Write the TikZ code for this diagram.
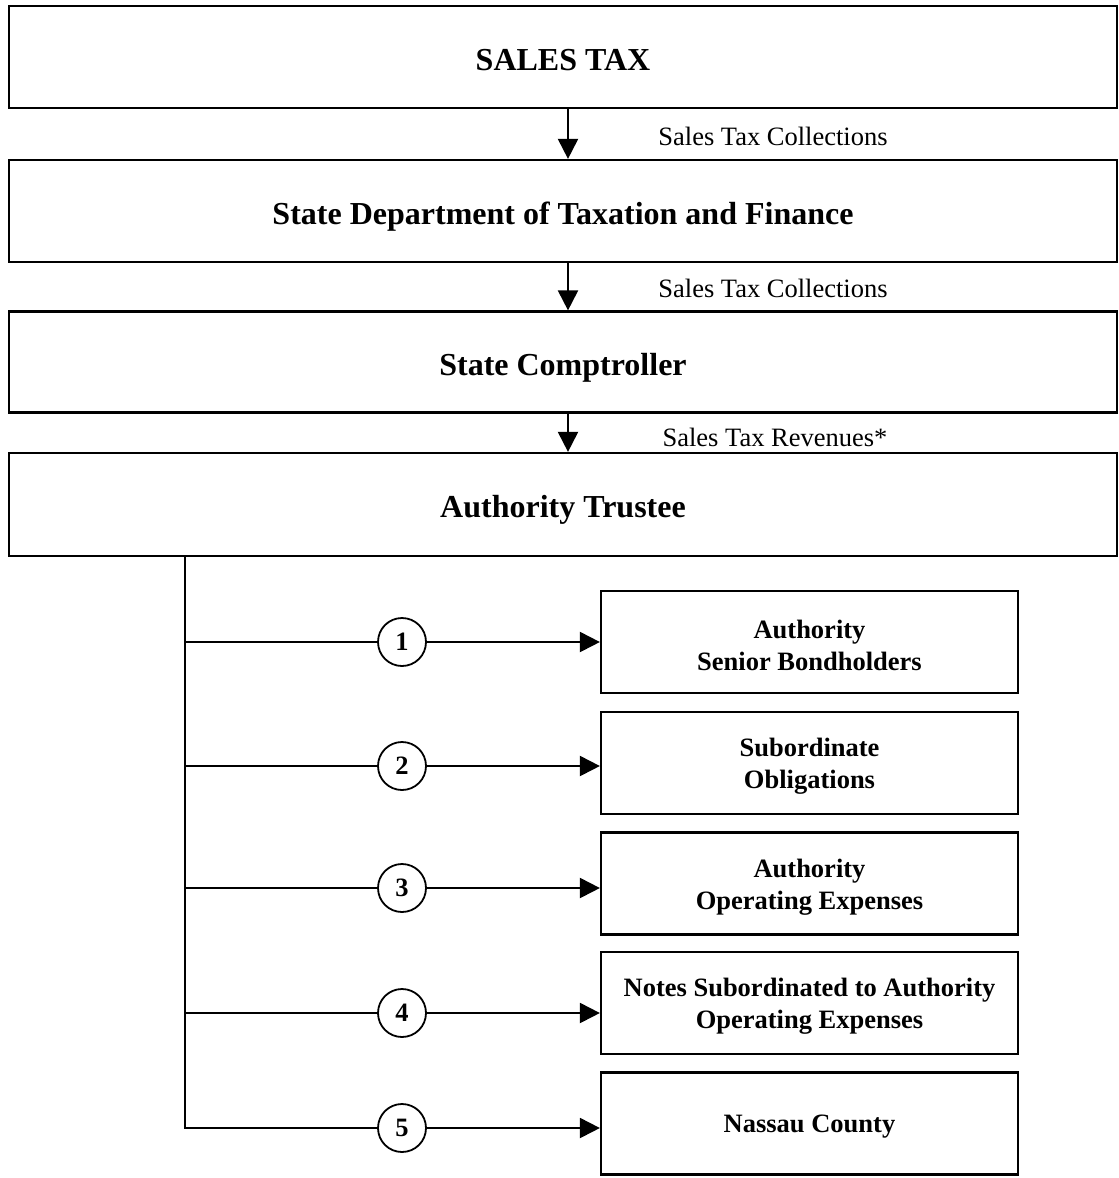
\documentclass[tikz,border=0pt]{standalone}
\usepackage{fontspec}
\setmainfont{Liberation Serif}
\usetikzlibrary{arrows.meta}
\tikzset{
  bigbox/.style={draw, line width=2.2pt, minimum width=1108pt, inner sep=0pt,
    text height=26pt, text depth=0pt,
    font=\fontsize{32}{38}\selectfont\bfseries},
  smallbox/.style={draw, line width=2.2pt, minimum width=417pt, minimum height=102pt, inner sep=0pt},
  boxtext/.style={inner sep=0pt, align=center, yshift=-3.5pt,
    font=\fontsize{26.5}{32}\selectfont\bfseries},
  flowlabel/.style={inner sep=0pt, font=\fontsize{26.5}{32}\selectfont},
  numcircle/.style={draw, circle, fill=white, line width=1.8pt, minimum size=48pt,
    inner sep=0pt, font=\fontsize{26.5}{32}\selectfont\bfseries},
  conn/.style={line width=2pt},
  arr/.style={line width=2pt, -{Triangle[length=20pt,width=20pt]}}
}
\begin{document}
\begin{tikzpicture}[x=1pt,y=-1pt]
\useasboundingbox (0,0) rectangle (1119,1178);
% main boxes
\node[bigbox, minimum height=102pt] (A) at (563,57) {SALES TAX};
\node[bigbox, minimum height=102pt] (B) at (563,211) {State Department of Taxation and Finance};
\node[bigbox, minimum height=101pt] (C) at (563,362) {State Comptroller};
\node[bigbox, minimum height=103pt] (D) at (563,504.5) {Authority Trustee};
% vertical arrows
\draw[arr] ([xshift=5pt]A.south) -- ([xshift=5pt]B.north);
\draw[arr] ([xshift=5pt]B.south) -- ([xshift=5pt]C.north);
\draw[arr] ([xshift=5pt]C.south) -- ([xshift=5pt]D.north);
\node[flowlabel] (l1) at (773,136) {Sales Tax Collections};
\node[flowlabel] (l2) at (773,288) {Sales Tax Collections};
\node[flowlabel] (l3) at (775,437) {Sales Tax Revenues*};
% right boxes
\node[smallbox, label={[boxtext]center:{Authority\\Senior Bondholders}}] (R1) at (809.5,642) {};
\node[smallbox, label={[boxtext]center:{Subordinate\\Obligations}}] (R2) at (809.5,763) {};
\node[smallbox, label={[boxtext]center:{Authority\\Operating Expenses}}] (R3) at (809.5,883.5) {};
\node[smallbox, label={[boxtext]center:{Notes Subordinated to Authority\\Operating Expenses}}] (R4) at (809.5,1003) {};
\node[smallbox, label={[boxtext]center:{Nassau County}}] (R5) at (809.5,1123.5) {};
% trunk
\coordinate (T0) at (185,556);
\coordinate (T1) at (185,642);
\coordinate (T2) at (185,766);
\coordinate (T3) at (185,888);
\coordinate (T4) at (185,1013);
\coordinate (T5) at (185,1128);
\draw[conn] (T0) -- ([yshift=-1pt]T5);
% circles
\node[numcircle] (C1) at (402,642) {1};
\node[numcircle] (C2) at (402,766) {2};
\node[numcircle] (C3) at (402,888) {3};
\node[numcircle] (C4) at (402,1013) {4};
\node[numcircle] (C5) at (402,1128) {5};
\foreach \i in {1,...,5} {
  \draw[conn] (T\i) -- (C\i);
  \draw[arr] (C\i) -- (C\i -| R\i.west);
}
\end{tikzpicture}
\end{document}
